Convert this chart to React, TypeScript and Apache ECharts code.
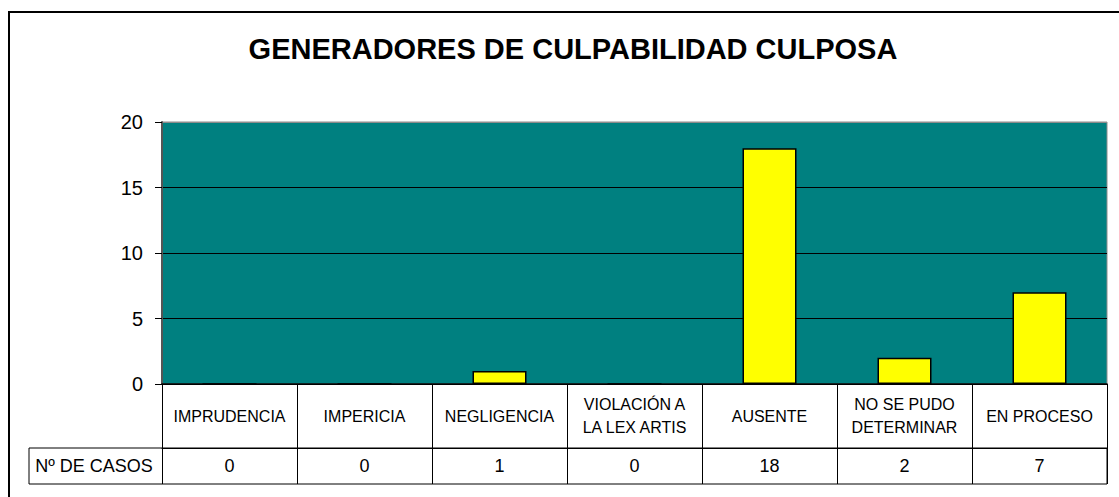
import React, { useEffect, useRef } from "react";
import * as echarts from "echarts";

const title = "GENERADORES DE CULPABILIDAD CULPOSA";
const categories = [
  "IMPRUDENCIA",
  "IMPERICIA",
  "NEGLIGENCIA",
  "VIOLACIÓN A\nLA LEX ARTIS",
  "AUSENTE",
  "NO SE PUDO\nDETERMINAR",
  "EN PROCESO",
];
const casos = [0, 0, 1, 0, 18, 2, 7];
const seriesName = "Nº DE CASOS";
const yMin = 0;
const yMax = 20;
const yStep = 5;

const FONT = "'Liberation Sans', Arial, sans-serif";

export default function App() {
  const ref = useRef<HTMLDivElement>(null);
  useEffect(() => {
    document.body.style.margin = "0";
    const chart = echarts.init(ref.current!, null, { renderer: "svg" });
    chart.setOption({
      animation: false,
      backgroundColor: "#ffffff",
      title: {
        text: title,
        left: 568,
        top: 29,
        textAlign: "center",
        textStyle: { fontFamily: FONT, fontSize: 29, fontWeight: "bold", color: "#000" },
      },
      grid: {
        left: 162,
        right: 12,
        top: 122,
        height: 262,
        show: true,
        backgroundColor: "#008080",
        borderColor: "#8c8c8c",
        borderWidth: 1,
      },
      xAxis: [
        {
          type: "category",
          data: categories,
          position: "bottom",
          boundaryGap: true,
          axisLine: { show: true, lineStyle: { color: "#000", width: 1.5 } },
          axisTick: { show: true, interval: 0, length: 64, lineStyle: { color: "#000", width: 1 } },
          axisLabel: {
            interval: 0,
            margin: 32,
            verticalAlign: "middle",
            fontFamily: FONT,
            fontSize: 16,
            lineHeight: 23,
            color: "#000",
          },
        },
        {
          type: "category",
          data: casos.map(String),
          position: "bottom",
          offset: 64,
          boundaryGap: true,
          axisLine: { show: true, lineStyle: { color: "#000", width: 1 } },
          axisTick: { show: true, interval: 0, length: 36, lineStyle: { color: "#000", width: 1 } },
          axisLabel: {
            interval: 0,
            margin: 18,
            verticalAlign: "middle",
            fontFamily: FONT,
            fontSize: 18,
            color: "#000",
          },
        },
      ],
      yAxis: {
        type: "value",
        min: yMin,
        max: yMax,
        interval: yStep,
        axisLine: { show: true, lineStyle: { color: "#555", width: 2 } },
        axisTick: { show: true, length: 7, lineStyle: { color: "#000" } },
        axisLabel: { margin: 19, fontFamily: FONT, fontSize: 20, color: "#000" },
        splitLine: {
          show: true,
          lineStyle: { color: ["#000", "#000", "#000", "#000", "#8c8c8c"], width: 1 },
        },
      },
      series: [
        {
          name: seriesName,
          type: "bar",
          data: casos,
          barWidth: "40%",
          itemStyle: { color: "#ffff00", borderColor: "#000", borderWidth: 1.5 },
        },
      ],
      graphic: [
        {
          type: "rect",
          shape: { x: 9, y: 12, width: 1200, height: 600 },
          style: { fill: "none", stroke: "#000", lineWidth: 2 },
          silent: true,
        },
        {
          type: "rect",
          shape: { x: 29, y: 448, width: 1078, height: 36 },
          style: { fill: "none", stroke: "#000", lineWidth: 1 },
          silent: true,
        },
        {
          type: "text",
          x: 94,
          y: 466,
          style: {
            text: seriesName,
            fontFamily: FONT,
            fontSize: 18,
            fill: "#000",
            textAlign: "center",
            textVerticalAlign: "middle",
          },
          silent: true,
        },
      ],
    });
    return () => chart.dispose();
  }, []);
  return <div ref={ref} style={{ width: 1119, height: 497 }} />;
}
